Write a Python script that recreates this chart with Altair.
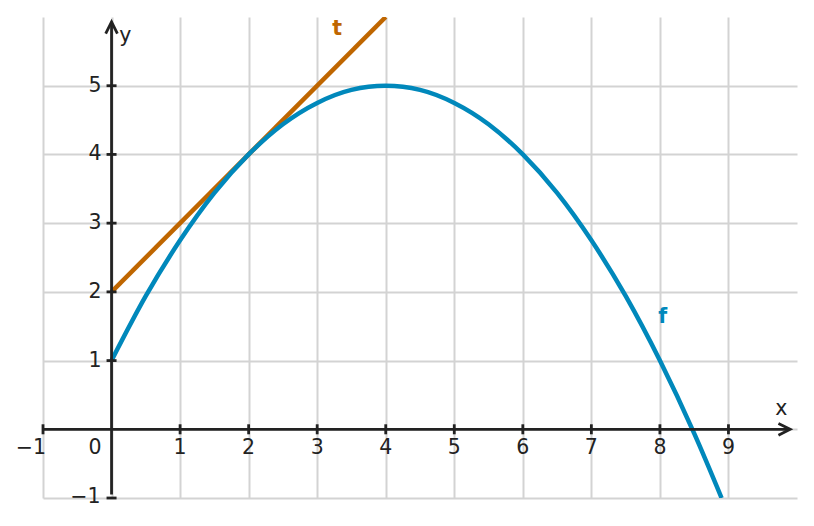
import altair as alt
import pandas as pd

f_x = [0, 0.5, 1, 1.5, 2, 2.5, 3, 3.5, 4, 4.5, 5, 5.5, 6, 6.5, 7, 7.5, 8, 8.5, 8.9]
f_y = [1, 1.94, 2.75, 3.44, 4, 4.44, 4.75, 4.94, 5, 4.94, 4.75, 4.44, 4, 3.44, 2.75, 1.94, 1, -0.06, -1.0]

# tangent t
t_x = [0, 4]
t_y = [2, 6]

x_ticks = [-1, 1, 2, 3, 4, 5, 6, 7, 8, 9]
y_ticks = [-1, 1, 2, 3, 4, 5]
x_labels = ["1", "2", "3", "4", "5", "6", "7", "8", "9"]
x_label_vals = [1, 2, 3, 4, 5, 6, 7, 8, 9]
y_labels = ["1", "2", "3", "4", "5"]
y_label_vals = [1, 2, 3, 4, 5]

BLUE = "#0088BB"
ORANGE = "#BF6600"
AXIS = "#222222"
FONT = "DejaVu Sans"
FS = 20.5

xs = alt.Scale(domain=[-1, 10], nice=False, zero=False)
ys = alt.Scale(domain=[-1, 6], nice=False, zero=False)

grid_x_vals = [-1, 0, 1, 2, 3, 4, 5, 6, 7, 8, 9]
grid_y_vals = [-1, 0, 1, 2, 3, 4, 5]

def X(field="x"):
    return alt.X(f"{field}:Q", scale=xs,
                 axis=alt.Axis(grid=True, values=grid_x_vals, domain=False, ticks=False,
                               labels=False, title=None, gridColor="#d3d3d3", gridWidth=2))

def Y(field="y"):
    return alt.Y(f"{field}:Q", scale=ys,
                 axis=alt.Axis(grid=True, values=grid_y_vals, domain=False, ticks=False,
                               labels=False, title=None, gridColor="#d3d3d3", gridWidth=2))

f_df = pd.DataFrame({"x": f_x, "y": f_y})
t_df = pd.DataFrame({"x": t_x, "y": t_y})

f_line = alt.Chart(f_df).mark_line(color=BLUE, strokeWidth=4.5, interpolate="monotone", clip=True).encode(
    x=X(), y=Y())
t_line = alt.Chart(t_df).mark_line(color=ORANGE, strokeWidth=4.5, clip=True).encode(x=X(), y=Y())

axes_df = pd.DataFrame({"x": [-1, 0], "x2": [9.9, 0], "y": [0, -0.95], "y2": [0, 5.93]})
axes_rules = alt.Chart(axes_df).mark_rule(color=AXIS, strokeWidth=2.8).encode(
    x=X(), x2="x2:Q", y=Y(), y2="y2:Q")

xt_df = pd.DataFrame({"x": x_ticks, "y": [0] * len(x_ticks)})
xtick_marks = alt.Chart(xt_df).mark_rule(color=AXIS, strokeWidth=2.8, yOffset=-5, y2Offset=5).encode(
    x=X(), y=Y(), y2="y:Q")
yt_df = pd.DataFrame({"x": [0] * len(y_ticks), "y": y_ticks})
ytick_marks = alt.Chart(yt_df).mark_rule(color=AXIS, strokeWidth=2.8, xOffset=-5, x2Offset=5).encode(
    x=X(), x2="x:Q", y=Y())

arrow_df = pd.DataFrame({"x": [9.9, 0], "y": [0, 5.93], "ang": [0, 270]})
arrows = alt.Chart(arrow_df).mark_point(
    shape="M-1.8,-0.9L0,0L-1.8,0.9", filled=False, stroke=AXIS, strokeWidth=2.8, size=169, opacity=1
).encode(x=X(), y=Y(), angle=alt.Angle("ang:Q", scale=None))

xl_df = pd.DataFrame({"x": x_label_vals, "y": [0] * len(x_label_vals), "t": x_labels})
xlabels = alt.Chart(xl_df).mark_text(font=FONT, fontSize=FS, color=AXIS, dy=19, baseline="middle").encode(
    x=X(), y=Y(), text="t:N")
yl_df = pd.DataFrame({"x": [0] * len(y_label_vals), "y": y_label_vals, "t": y_labels})
ylabels = alt.Chart(yl_df).mark_text(font=FONT, fontSize=FS, color=AXIS, dx=-10, align="right",
                                     baseline="middle").encode(x=X(), y=Y(), text="t:N")

zero_df = pd.DataFrame({"x": [0], "y": [0], "t": ["0"]})
zero_lab = alt.Chart(zero_df).mark_text(font=FONT, fontSize=FS, color=AXIS, dx=-10, dy=19, align="right",
                                        baseline="middle").encode(x=X(), y=Y(), text="t:N")
mx_df = pd.DataFrame({"x": [-1], "y": [0], "t": ["−1"]})
mx_lab = alt.Chart(mx_df).mark_text(font=FONT, fontSize=FS, color=AXIS, dx=3, dy=19, align="right",
                                    baseline="middle").encode(x=X(), y=Y(), text="t:N")
my_df = pd.DataFrame({"x": [0], "y": [-1], "t": ["−1"]})
my_lab = alt.Chart(my_df).mark_text(font=FONT, fontSize=FS, color=AXIS, dx=-11, dy=-1, align="right",
                                    baseline="middle").encode(x=X(), y=Y(), text="t:N")

ax_names = pd.DataFrame({"x": [9.77, 0.2], "y": [0.29, 5.72], "t": ["x", "y"]})
ax_lab = alt.Chart(ax_names).mark_text(font=FONT, fontSize=FS, color=AXIS, baseline="middle",
                                       align="center").encode(x=X(), y=Y(), text="t:N")
fn_names = pd.DataFrame({"x": [3.29, 8.04], "y": [5.83, 1.63], "t": ["t", "f"], "c": [ORANGE, BLUE]})
fn_lab = alt.Chart(fn_names).mark_text(font=FONT, fontSize=FS, fontWeight="bold", baseline="middle",
                                       align="center").encode(
    x=X(), y=Y(), text="t:N", color=alt.Color("c:N", scale=None))

chart = alt.layer(
    t_line, f_line, axes_rules, xtick_marks, ytick_marks, arrows,
    xlabels, ylabels, zero_lab, mx_lab, my_lab, ax_lab, fn_lab
).properties(
    width=754, height=481,
    padding={"left": 35, "top": 9, "right": 9, "bottom": 20},
    autosize=alt.AutoSizeParams(type="none"),
    background="white",
).configure_view(stroke="transparent", strokeWidth=0)

chart.save("out.html", embed_options={"renderer": "svg", "actions": False})
